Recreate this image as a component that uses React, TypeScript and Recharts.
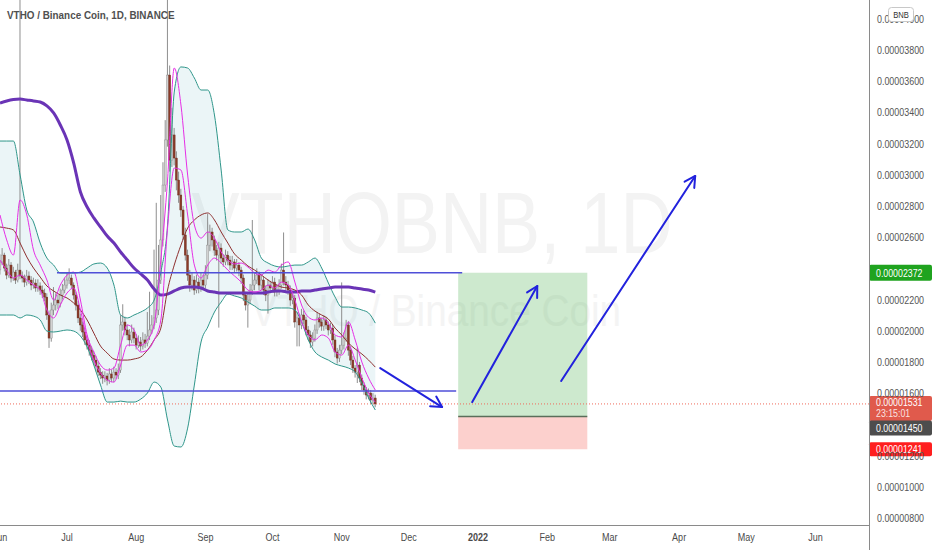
import React from 'react';
import { ComposedChart, Bar, Line, Area, XAxis, YAxis, ReferenceLine, ReferenceArea } from 'recharts';

const FONT = "'Liberation Sans', Arial, sans-serif";

// x axis: day index from 1 Jun 2021
const monthDays = [0, 30, 61, 92, 122, 153, 183, 214, 245, 273, 304, 334, 365];
const monthLabels = ['Jun', 'Jul', 'Aug', 'Sep', 'Oct', 'Nov', 'Dec', '2022', 'Feb', 'Mar', 'Apr', 'May', 'Jun'];
// prices in units of 1e-6 BNB
const priceTicks = [8, 10, 12, 16, 18, 20, 22, 26, 28, 30, 32, 34, 36, 38, 40];

const firstOpen = 23.9;
const closes = [
  24.41, 24.85, 24.02, 23.57, 24.21, 23.38, 23.76, 23.25, 23.89, 23.51,
  23.38, 23.12, 23.51, 23.25, 22.93, 23.06, 22.74, 22.87, 22.61, 22.42,
  22.16, 21.01, 19.53, 21.33, 21.65, 21.97, 21.78, 22.29, 22.61, 22.93,
  23.25, 23.38, 22.93, 22.29, 21.65, 20.82, 20.37, 19.92, 19.41, 19.08,
  18.76, 18.44, 18.12, 17.74, 17.35, 17.16, 16.97, 17.1, 16.84, 17.23,
  16.97, 17.35, 17.16, 17.48, 20.37, 20.56, 20.05, 19.73, 19.41, 19.92,
  19.53, 19.08, 19.28, 19.02, 19.41, 19.21, 19.66, 20.05, 20.37, 20.82,
  21.33, 23.25, 25.82, 29.34, 32.23, 36.39, 30.94, 32.55, 31.07, 29.66,
  28.7, 27.74, 26.14, 24.85, 23.57, 22.93, 23.25, 22.61, 23.12, 22.74,
  23.25, 22.93, 23.57, 25.49, 26.33, 25.82, 25.17, 24.85, 25.3, 24.66,
  24.41, 24.85, 24.53, 24.21, 24.41, 24.02, 24.21, 23.89, 23.38, 22.29,
  21.65, 21.97, 22.61, 22.93, 23.25, 23.57, 22.93, 23.25, 22.61, 22.29,
  22.93, 22.74, 23.12, 22.48, 22.61, 22.93, 23.89, 23.12, 22.93, 22.61,
  21.97, 22.1, 20.56, 20.82, 20.37, 21.01, 20.69, 20.05, 19.73, 19.28,
  19.53, 20.05, 20.82, 20.56, 20.3, 20.69, 20.37, 20.05, 20.17, 19.41,
  18.64, 18.25, 18.76, 19.08, 19.53, 20.37, 18.76, 18.12, 17.61, 17.35,
  17.8, 16.97, 16.52, 16.2, 15.88, 16.01, 15.56, 15.69, 15.31,
];
const highs = [
  24.9, 25.3, 25.0, 24.3, 24.6, 24.4, 24.1, 23.9, 24.3, 42.0,
  23.8, 23.6, 23.9, 23.8, 23.5, 23.4, 23.3, 23.3, 23.1, 22.9,
  22.7, 22.4, 21.3, 21.8, 22.8, 22.4, 22.3, 22.7, 23.0, 23.4,
  23.7, 24.0, 23.6, 23.1, 22.5, 21.9, 21.1, 20.6, 20.2, 19.7,
  19.4, 19.0, 18.7, 18.4, 18.0, 17.6, 17.4, 17.4, 17.3, 17.6,
  17.5, 17.7, 17.6, 17.9, 21.0, 21.7, 20.9, 20.4, 20.1, 20.4,
  20.2, 19.8, 19.7, 19.6, 19.9, 19.8, 21.2, 22.5, 21.0, 25.2,
  28.2, 25.5, 28.7, 30.8, 33.5, 42.0, 37.0, 34.3, 33.0, 31.5,
  30.2, 29.1, 28.0, 26.6, 25.2, 23.9, 23.7, 23.5, 23.6, 23.4,
  23.7, 23.6, 24.2, 27.5, 26.8, 26.6, 26.1, 25.5, 25.7, 25.6,
  24.9, 25.2, 25.1, 24.8, 24.8, 24.6, 24.6, 24.4, 24.1, 23.6,
  22.5, 22.4, 23.0, 27.1, 23.7, 24.0, 23.8, 23.6, 23.5, 22.9,
  23.3, 23.2, 23.5, 23.4, 23.0, 23.3, 24.3, 26.3, 23.5, 23.2,
  22.9, 22.5, 22.3, 21.2, 21.1, 21.4, 21.3, 20.9, 20.3, 20.0,
  19.9, 20.4, 21.2, 21.1, 20.8, 21.0, 20.9, 20.6, 20.5, 20.4,
  19.7, 18.9, 19.1, 23.1, 19.9, 20.7, 20.6, 19.0, 18.4, 17.8,
  18.9, 18.0, 17.2, 16.7, 16.4, 16.3, 16.2, 16.0, 15.9,
];
const lows = [
  23.6, 24.2, 23.8, 23.3, 23.4, 23.1, 23.2, 23.0, 23.1, 23.3,
  23.1, 22.8, 22.9, 23.0, 22.6, 22.7, 22.5, 22.5, 22.3, 22.1,
  21.9, 20.7, 18.9, 19.3, 21.0, 21.3, 21.4, 21.5, 22.0, 22.4,
  22.7, 23.0, 22.7, 22.0, 21.3, 20.5, 20.0, 19.6, 19.1, 18.8,
  18.4, 18.1, 17.8, 17.4, 17.1, 16.9, 16.6, 16.7, 16.5, 16.6,
  16.7, 16.7, 16.9, 16.9, 17.3, 20.0, 19.7, 19.4, 19.0, 19.2,
  19.2, 18.8, 18.9, 18.7, 18.8, 18.9, 19.0, 19.4, 19.8, 20.1,
  20.5, 21.0, 23.0, 25.4, 28.9, 31.8, 30.2, 30.5, 30.6, 29.0,
  28.2, 27.3, 25.8, 24.5, 23.2, 22.5, 22.6, 22.3, 22.4, 22.4,
  22.5, 22.6, 22.7, 23.3, 25.1, 25.4, 24.8, 24.5, 20.2, 24.3,
  24.1, 24.2, 24.2, 23.9, 23.9, 23.7, 23.8, 23.5, 23.0, 21.9,
  21.3, 20.2, 21.7, 22.3, 22.6, 23.0, 22.6, 22.6, 22.3, 21.9,
  21.1, 22.4, 22.5, 22.2, 22.2, 22.3, 22.7, 22.9, 22.6, 22.3,
  21.6, 21.7, 20.2, 19.0, 19.0, 20.1, 20.4, 19.7, 19.4, 18.9,
  19.0, 19.3, 19.8, 20.2, 20.0, 20.0, 20.1, 19.7, 19.8, 19.1,
  18.3, 17.9, 18.0, 18.5, 18.8, 19.3, 18.4, 17.8, 17.3, 17.0,
  16.65, 16.7, 16.2, 15.9, 15.6, 15.6, 15.3, 15.3, 15.1,
];

// indicator readings, one every 3 days
const sampleStep = 3;
const maLong = [
  34.6, 34.73, 34.82, 34.85, 34.79, 34.73, 34.66, 34.41, 33.96, 33.19,
  32.23, 30.75, 28.89, 27.93, 27.23, 26.65, 26.07, 25.62, 25.05, 24.53,
  24.02, 23.64, 23.25, 22.67, 22.29, 22.35, 22.55, 22.74, 22.8, 22.8,
  22.74, 22.55, 22.48, 22.42, 22.42, 22.42, 22.42, 22.42, 22.42, 22.42,
  22.48, 22.55, 22.55, 22.48, 22.48, 22.55, 22.55, 22.61, 22.67, 22.74,
  22.8, 22.8, 22.8, 22.74, 22.67, 22.61, 22.48,
];
const bbUpper = [
  32.16, 32.16, 32.16, 29.98, 27.74, 26.97, 25.62, 24.66, 24.21, 23.7,
  23.7, 23.7, 23.76, 24.02, 24.28, 24.34, 24.02, 22.93, 21.01, 20.82,
  21.01, 21.2, 21.46, 21.97, 23.76, 26.78, 35.3, 36.91, 36.84, 36.2,
  35.43, 35.43, 33.83, 30.3, 26.46, 26.33, 26.33, 26.52, 25.82, 24.66,
  24.34, 24.15, 24.08, 24.15, 24.21, 24.21, 24.41, 24.66, 24.02, 23.06,
  22.16, 21.52, 21.52, 21.46, 21.33, 21.14, 20.49,
];
const bbLower = [
  21.01, 21.01, 21.01, 20.82, 21.01, 20.94, 20.69, 19.98, 19.92, 19.98,
  20.05, 19.98, 19.66, 18.96, 17.8, 16.52, 15.43, 15.43, 15.49, 15.43,
  15.43, 15.62, 16.01, 16.71, 16.39, 14.28, 12.61, 12.55, 13.76, 16.52,
  19.28, 20.24, 21.2, 21.84, 22.35, 22.23, 22.1, 21.84, 21.58, 21.33,
  21.33, 21.46, 21.46, 21.46, 21.33, 20.56, 19.41, 18.64, 18.32, 18.12,
  17.87, 17.74, 17.61, 17.35, 16.65, 15.69, 14.92,
];
const maSlow = [
  26.65, 26.58, 26.46, 25.62, 24.73, 24.02, 23.44, 22.87, 22.55, 22.29,
  22.1, 21.78, 21.33, 20.69, 19.85, 19.02, 18.57, 18.19, 18.12, 18.12,
  18.19, 18.32, 18.76, 19.41, 20.17, 22.61, 24.21, 25.49, 26.58, 27.1,
  27.42, 27.55, 27.1, 26.33, 25.62, 24.92, 24.53, 24.15, 23.89, 23.57,
  23.25, 22.99, 22.8, 22.74, 22.61, 22.29, 21.65, 21.26, 21.01, 20.75,
  20.17, 19.73, 19.21, 18.83, 18.51, 18.12, 17.67,
];
const envUpper = [
  27.42, 25.82, 24.85, 28.38, 27.42, 25.17, 24.21, 23.25, 21.97, 22.93,
  23.57, 23.76, 21.97, 19.73, 18.64, 17.8, 17.48, 17.61, 19.08, 20.37,
  20.05, 19.08, 19.41, 20.37, 24.53, 29.66, 36.84, 34.47, 29.98, 26.78,
  25.94, 26.33, 25.94, 25.05, 24.53, 24.28, 24.34, 24.08, 23.7, 23.57,
  23.89, 23.76, 24.21, 24.41, 23.12, 21.65, 20.88, 20.69, 20.82, 20.49,
  19.73, 19.6, 20.56, 19.41, 17.99, 16.97, 16.2,
];
const envLower = [
  24.53, 23.89, 23.38, 23.57, 23.25, 22.93, 22.61, 21.33, 20.82, 21.65,
  22.42, 22.74, 21.33, 19.41, 18.12, 17.29, 16.84, 16.71, 17.8, 19.08,
  19.08, 18.64, 18.76, 19.41, 20.69, 26.58, 30.43, 30.3, 27.42, 24.21,
  23.38, 24.21, 24.66, 24.34, 23.89, 23.51, 23.12, 22.61, 22.48, 22.61,
  22.93, 22.74, 23.12, 22.93, 21.97, 20.56, 19.73, 19.41, 19.73, 19.53,
  18.64, 18.44, 19.08, 18.12, 16.97, 16.01, 15.43,
];

// drawings
const lastPrice = 15.31;
const lastTime = '23:15:01';
const targetPrice = 23.72;
const entryPrice = 14.5;
const stopPrice = 12.41;
const supportPrice = 16.14;
const resistanceSpan = [25.5, 206.9];
const supportSpan = [0, 204.2];
const positionSpan = [205.1, 262.9];
const arrows = [
  { d1: 170.2, p1: 17.61, d2: 197.9, p2: 15.11 },
  { d1: 211.4, p1: 15.43, d2: 240.5, p2: 22.87 },
  { d1: 251.2, p1: 16.78, d2: 311.2, p2: 29.92 },
];

const fmt = (v: number) => (v / 1e6).toFixed(8);

const table = closes.map((c, d) => {
  const row: any = {
    d,
    o: d === 0 ? firstOpen : closes[d - 1],
    c,
    h: highs[d],
    l: lows[d],
    range: [lows[d], highs[d]],
  };
  if (d % sampleStep === 0) {
    const i = d / sampleStep;
    row.maLong = maLong[i];
    row.maSlow = maSlow[i];
    row.envU = envUpper[i];
    row.envL = envLower[i];
    row.bbU = bbUpper[i];
    row.bbL = bbLower[i];
    row.bb = [bbLower[i], bbUpper[i]];
  }
  return row;
});

// narrow text (the reference's UI font is condensed)
const NText = ({ x, y, sx = 0.82, children, ...rest }: any) => (
  <text transform={`translate(${x},${y}) scale(${sx},1)`} x={0} y={0} fontFamily={FONT} {...rest}>
    {children}
  </text>
);

const Candle = (props: any) => {
  const { x, y, width, height, payload } = props;
  if (!payload || x == null || y == null) return null;
  const { o, c, h, l } = payload;
  const top = Math.min(y, y + height);
  const hh = Math.abs(height);
  if (!(hh > 0)) return null;
  const k = hh / (h - l);
  const py = (v: number) => top + (h - v) * k;
  const cx = x + width / 2;
  const up = c >= o;
  const bt = py(Math.max(o, c));
  const bb = py(Math.min(o, c));
  return (
    <g>
      <line x1={cx} x2={cx} y1={top} y2={top + hh} stroke="#8e8e8e" strokeWidth={1} />
      <rect
        x={cx - 1}
        y={bt}
        width={2}
        height={Math.max(1, bb - bt)}
        fill={up ? '#d2d2d2' : '#8a3a28'}
        stroke={up ? '#8a8a8a' : '#6a2a1c'}
        strokeWidth={0.4}
      />
    </g>
  );
};

const ArrowShape = (p: any) => {
  const { x1, y1, x2, y2 } = p;
  if ([x1, y1, x2, y2].some((v) => v == null || isNaN(v))) return null;
  const ang = Math.atan2(y2 - y1, x2 - x1);
  const len = 12;
  const spread = 0.5;
  const ax = x2 - len * Math.cos(ang - spread);
  const ay = y2 - len * Math.sin(ang - spread);
  const bx = x2 - len * Math.cos(ang + spread);
  const by = y2 - len * Math.sin(ang + spread);
  return (
    <g>
      <line x1={x1} y1={y1} x2={x2} y2={y2} stroke="#2222dd" strokeWidth={2} strokeLinecap="round" />
      <polyline points={`${ax},${ay} ${x2},${y2} ${bx},${by}`} fill="none" stroke="#2222dd" strokeWidth={2} strokeLinecap="round" strokeLinejoin="round" />
    </g>
  );
};

const makeTag = (fill: string, text: string, dy: number, h: number, sub?: string) => (props: any) => {
  const vb = props.viewBox || props;
  const x = (vb.x ?? 0) + (vb.width ?? 0);
  const y = vb.y ?? 0;
  const top = y + dy;
  return (
    <g>
      <rect x={x} y={top} width={63} height={h} rx={2} fill={fill} />
      <NText x={x + 7} y={top + (sub ? 10 : h / 2 + 4)} sx={0.8} fontSize={11} fill="#ffffff">{text}</NText>
      {sub ? (
        <NText x={x + 7} y={top + 21} sx={0.8} fontSize={11} fill="#ffffff" fillOpacity={0.85}>{sub}</NText>
      ) : null}
    </g>
  );
};

const MonthTick = (p: any) => {
  const i = monthDays.indexOf(p.payload.value);
  const label = monthLabels[i] ?? '';
  return (
    <NText x={p.x} y={p.y + 8} textAnchor="middle" fontSize={11} fill="#4a4a4a" fontWeight={label === '2022' ? 700 : 400}>
      {label}
    </NText>
  );
};

const PriceTick = (p: any) => (
  <NText x={p.x} y={p.y + 4} sx={0.81} textAnchor="start" fontSize={11} fill="#555">
    {fmt(p.payload.value)}
  </NText>
);

export default function App() {
  return (
    <div style={{ position: 'absolute', left: 0, top: 0, width: 932, height: 550, background: '#fff', overflow: 'hidden' }}>
      <svg width={932} height={550} style={{ position: 'absolute', left: 0, top: 0 }}>
        <NText x={432} y={253} sx={0.82} textAnchor="middle" fontSize={88} fill="#f3f3f3">VTHOBNB, 1D</NText>
        <NText x={436} y={326} sx={0.88} textAnchor="middle" fontSize={44} fill="#f4f4f4">VTHO / Binance Coin</NText>
      </svg>
      <div style={{ position: 'absolute', left: 0, top: 0 }}>
        <ComposedChart width={932} height={550} data={table} margin={{ top: 0, right: 0, bottom: 0, left: 0 }}>
          <XAxis
            type="number"
            dataKey="d"
            domain={[0, 389]}
            ticks={monthDays}
            interval={0}
            allowDataOverflow
            height={25}
            axisLine={false}
            tickLine={false}
            tickSize={6}
            tickMargin={2}
            tick={<MonthTick />}
          />
          <YAxis
            orientation="right"
            type="number"
            domain={[7.55, 41.2]}
            ticks={priceTicks}
            interval={0}
            allowDataOverflow
            width={63}
            axisLine={false}
            tickLine={false}
            tickSize={6}
            tickMargin={2}
            tick={<PriceTick />}
          />
          <Area dataKey="bb" fill="#3aa0b0" fillOpacity={0.1} stroke="none" connectNulls type="monotone" dot={false} activeDot={false} isAnimationActive={false} />
          <Line dataKey="bbU" stroke="#2f968a" strokeWidth={1} dot={false} activeDot={false} connectNulls type="monotone" isAnimationActive={false} />
          <Line dataKey="bbL" stroke="#2f968a" strokeWidth={1} dot={false} activeDot={false} connectNulls type="monotone" isAnimationActive={false} />
          <Line dataKey="maLong" stroke="#6a34b6" strokeWidth={3} dot={false} activeDot={false} connectNulls type="monotone" isAnimationActive={false} />
          <Bar dataKey="range" barSize={2} shape={(p: any) => <Candle {...p} />} activeBar={false} isAnimationActive={false} />
          <Line dataKey="maSlow" stroke="#8e2f2f" strokeWidth={1} dot={false} activeDot={false} connectNulls type="monotone" isAnimationActive={false} />
          <Line dataKey="envU" stroke="#e62ee6" strokeWidth={1} dot={false} activeDot={false} connectNulls type="monotone" isAnimationActive={false} />
          <Line dataKey="envL" stroke="#e62ee6" strokeWidth={1} dot={false} activeDot={false} connectNulls type="monotone" isAnimationActive={false} />

          <ReferenceArea x1={positionSpan[0]} x2={positionSpan[1]} y1={entryPrice} y2={targetPrice} fill="#4caf50" fillOpacity={0.28} stroke="none" />
          <ReferenceArea x1={positionSpan[0]} x2={positionSpan[1]} y1={stopPrice} y2={entryPrice} fill="#f44336" fillOpacity={0.25} stroke="none" />
          <ReferenceLine
            segment={[{ x: positionSpan[0], y: entryPrice }, { x: positionSpan[1], y: entryPrice }]}
            stroke="#5a6e5a"
            strokeWidth={1.5}
          />
          <ReferenceLine
            segment={[{ x: resistanceSpan[0], y: targetPrice }, { x: resistanceSpan[1], y: targetPrice }]}
            stroke="#4f4fd8"
            strokeWidth={1.5}
          />
          <ReferenceLine
            segment={[{ x: supportSpan[0], y: supportPrice }, { x: supportSpan[1], y: supportPrice }]}
            stroke="#4f4fd8"
            strokeWidth={1.5}
          />
          <ReferenceLine y={lastPrice} stroke="#ef6a5a" strokeWidth={1} strokeDasharray="1 2" label={makeTag('#e05a4c', fmt(lastPrice), -8, 25, lastTime)} />
          <ReferenceLine y={targetPrice} stroke="none" label={makeTag('#1fa31f', fmt(targetPrice), -8, 16)} />
          <ReferenceLine y={entryPrice} stroke="none" label={makeTag('#4d4d4d', fmt(entryPrice), 4, 15)} />
          <ReferenceLine y={stopPrice} stroke="none" label={makeTag('#ff1f1f', fmt(stopPrice), -7, 14)} />
          {arrows.map((a, i) => (
            <ReferenceLine
              key={i}
              segment={[{ x: a.d1, y: a.p1 }, { x: a.d2, y: a.p2 }]}
              stroke="#2222dd"
              shape={(p: any) => <ArrowShape {...p} />}
            />
          ))}
        </ComposedChart>
      </div>
      <svg width={932} height={550} style={{ position: 'absolute', left: 0, top: 0, pointerEvents: 'none' }}>
        <line x1={869.5} y1={0} x2={869.5} y2={550} stroke="#8a8a8a" strokeWidth={1} />
        <line x1={0} y1={525.5} x2={869.5} y2={525.5} stroke="#8a8a8a" strokeWidth={1} />
        <NText x={7} y={19} sx={0.86} fontSize={11.5} fontWeight={700} fill="#505050">VTHO / Binance Coin, 1D, BINANCE</NText>
        <rect x={888.5} y={7.5} width={25} height={14} rx={3} fill="#ffffff" stroke="#c8c8c8" />
        <NText x={901} y={18} sx={0.85} textAnchor="middle" fontSize={9} fill="#333">BNB</NText>
      </svg>
    </div>
  );
}
